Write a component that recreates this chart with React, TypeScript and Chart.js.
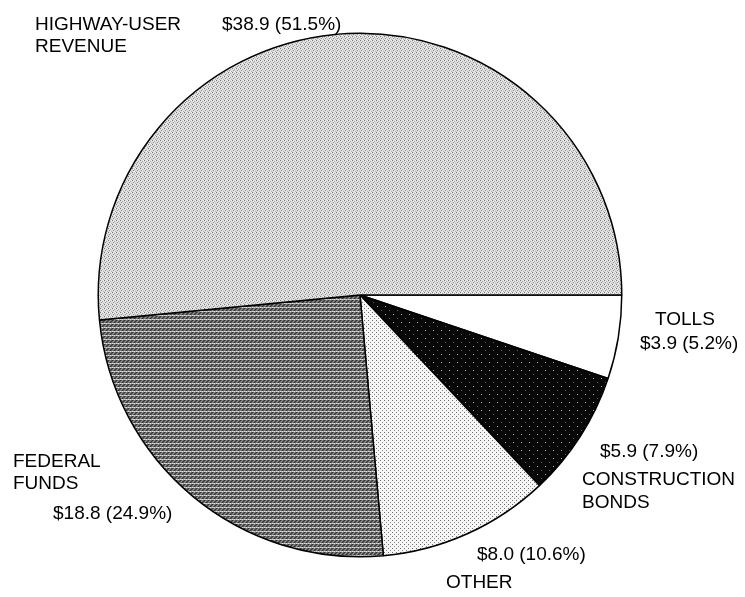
import React, { useEffect, useRef } from "react";
import { Chart, registerables } from "chart.js";

Chart.register(...registerables);

// Data, clockwise from 3 o'clock
const categories = ["TOLLS", "CONSTRUCTION BONDS", "OTHER", "FEDERAL FUNDS", "HIGHWAY-USER REVENUE"];
const amounts = [3.9, 5.9, 8.0, 18.8, 38.9]; // $ billions
const percents = [5.2, 7.9, 10.6, 24.9, 51.5];

// Label layout (page coordinates of text baselines), name lines and value line
const labelLayout = [
  { name: [[655, 325, "TOLLS"]], value: [640, 349] },
  { name: [[582, 485, "CONSTRUCTION"], [582, 508, "BONDS"]], value: [600, 457] },
  { name: [[446, 588, "OTHER"]], value: [477, 560] },
  { name: [[13, 467, "FEDERAL"], [13, 489, "FUNDS"]], value: [53, 519] },
  { name: [[35, 30, "HIGHWAY-USER"], [35, 52, "REVENUE"]], value: [222, 30] },
];

function makePattern(
  w: number,
  h: number,
  bg: string,
  dots: Array<[number, number, string]>
): CanvasPattern | string {
  const c = document.createElement("canvas");
  c.width = w;
  c.height = h;
  const ctx = c.getContext("2d");
  if (!ctx) return bg;
  ctx.fillStyle = bg;
  ctx.fillRect(0, 0, w, h);
  for (const [x, y, col] of dots) {
    ctx.fillStyle = col;
    ctx.fillRect(x, y, 1, 1);
  }
  const p = ctx.createPattern(c, "repeat");
  return p || bg;
}

const labelPlugin = {
  id: "pieLabels",
  afterDraw(chart: any) {
    const ctx = chart.ctx as CanvasRenderingContext2D;
    const ox = 8;
    const oy = 8;
    ctx.save();
    ctx.fillStyle = "#000";
    ctx.font = '19px "Liberation Sans", Arial, sans-serif';
    ctx.textAlign = "left";
    ctx.textBaseline = "alphabetic";
    labelLayout.forEach((lab, i) => {
      lab.name.forEach(([x, y, t]) => {
        ctx.fillText(String(t), (x as number) - ox, (y as number) - oy);
      });
      const txt = `$${amounts[i].toFixed(1)} (${percents[i].toFixed(1)}%)`;
      ctx.fillText(txt, lab.value[0] - ox, lab.value[1] - oy);
    });
    ctx.restore();
  },
};

export default function App() {
  const ref = useRef<HTMLCanvasElement | null>(null);

  useEffect(() => {
    if (!ref.current) return;
    const highway = makePattern(4, 4, "#dcdcdc", [
      [0, 0, "#7a7a7a"],
      [2, 1, "#a8a8a8"],
      [1, 2, "#8e8e8e"],
      [3, 3, "#b0b0b0"],
      [3, 0, "#f2f2f2"],
      [1, 1, "#f4f4f4"],
      [2, 3, "#f0f0f0"],
    ]);
    const federal = makePattern(4, 4, "#5e5e5e", [
      [0, 0, "#333333"],
      [2, 0, "#8a8a8a"],
      [1, 1, "#999999"],
      [3, 1, "#383838"],
      [0, 2, "#888888"],
      [2, 2, "#2e2e2e"],
      [0, 3, "#d8d8d8"],
      [1, 3, "#bdbdbd"],
      [2, 3, "#e0e0e0"],
      [3, 3, "#a8a8a8"],
    ]);
    const other = makePattern(4, 4, "#f6f6f6", [
      [0, 0, "#6a6a6a"],
      [2, 2, "#888888"],
    ]);
    const bonds = makePattern(8, 8, "#080808", [
      [1, 2, "#b0b0b0"],
      [5, 6, "#606060"],
    ]);

    const chart = new Chart(ref.current, {
      type: "pie",
      data: {
        labels: categories,
        datasets: [
          {
            data: amounts,
            backgroundColor: ["#ffffff", bonds, other, federal, highway] as any,
            borderColor: "#000000",
            borderWidth: 1.5,
            hoverBorderWidth: 1.5,
          },
        ],
      },
      options: {
        animation: false,
        responsive: false,
        rotation: 90,
        events: [],
        layout: {
          padding: { left: 89.5, top: 24.5, right: 114.5, bottom: 31.5 },
        },
        plugins: {
          legend: { display: false },
          tooltip: { enabled: false },
          title: { display: false },
        },
      },
      plugins: [labelPlugin],
    });
    return () => chart.destroy();
  }, []);

  return (
    <div style={{ width: 729, height: 581 }}>
      <canvas ref={ref} width={729} height={581} style={{ display: "block" }} />
    </div>
  );
}
